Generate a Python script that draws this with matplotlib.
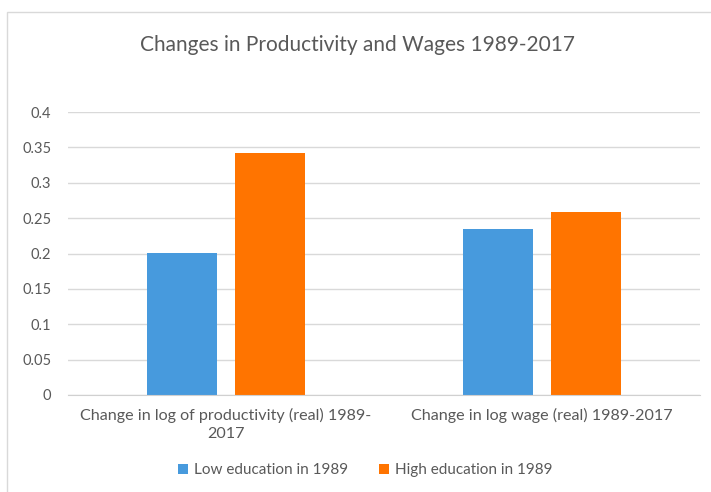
import numpy as np
import matplotlib
matplotlib.use('Agg')
import matplotlib.pyplot as plt
from matplotlib.patches import Rectangle

plt.rcParams['font.family'] = ['Lato', 'DejaVu Sans']

# values read as log changes, 1989-2017
categories = ['Change in log of productivity (real) 1989-\n2017',
              'Change in log wage (real) 1989-2017']
low_edu = [0.201, 0.235]
high_edu = [0.342, 0.258]
series_names = ['Low education in 1989', 'High education in 1989']
yticks = [0, 0.05, 0.1, 0.15, 0.2, 0.25, 0.3, 0.35, 0.4]
ytick_labels = ['0', '0.05', '0.1', '0.15', '0.2', '0.25', '0.3', '0.35', '0.4']

blue = '#479ADD'
orange = '#FF7400'
text_grey = '#595959'
grid_grey = '#D9D9D9'

fig = plt.figure(figsize=(7.11, 4.92), dpi=100)
fig.patch.set_facecolor('white')

# light chart border, as in an Excel chart area
fig.add_artist(Rectangle((7 / 711, -0.05), 1.0, 1 - 12 / 492 + 0.05,
                         transform=fig.transFigure, fill=False,
                         edgecolor='#D9D9D9', linewidth=1.0))

ax = fig.add_axes([68 / 711, 1 - 395 / 492, (700 - 68) / 711, (395 - 112) / 492])

x = np.arange(len(categories))
width = 0.22
offset = 0.14
ax.bar(x - offset, low_edu, width, color=blue, label=series_names[0], zorder=3)
ax.bar(x + offset, high_edu, width, color=orange, label=series_names[1], zorder=3)

ax.set_xlim(-0.5, 1.5)
ax.set_ylim(0, 0.4)
ax.set_yticks(yticks)
ax.set_yticklabels(ytick_labels)
ax.set_xticks(x)
ax.set_xticklabels(categories, linespacing=1.4)

ax.tick_params(axis='y', length=0, pad=12, labelsize=10.5, labelcolor=text_grey)
ax.tick_params(axis='x', length=0, pad=9, labelsize=11.6, labelcolor=text_grey)

ax.grid(axis='y', color=grid_grey, linewidth=1.0, zorder=0)
for side in ['top', 'right', 'left']:
    ax.spines[side].set_visible(False)
ax.spines['bottom'].set_color('#D0D0D0')
ax.spines['bottom'].set_zorder(4)

fig.text(0.503, 1 - 45 / 492, 'Changes in Productivity and Wages 1989-2017',
         ha='center', va='center', fontsize=15, color=text_grey)

fig.legend(loc='center', bbox_to_anchor=(0.514, 1 - 470 / 492), ncol=2,
           frameon=False, handlelength=0.65, handleheight=0.65,
           handletextpad=0.4, columnspacing=2.0, fontsize=11,
           labelcolor=text_grey)

fig.savefig('out.png', dpi=100)
